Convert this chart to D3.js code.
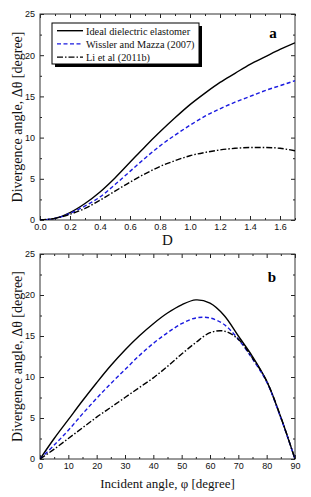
<!DOCTYPE html>
<html><head><meta charset="utf-8">
<script src="https://cdn.jsdelivr.net/npm/d3@7"></script>
<style>
html,body{margin:0;padding:0;background:#fff;}
svg{display:block;}
.tick text{font-family:"Liberation Sans",Arial,sans-serif;font-size:9px;fill:#111;}
</style></head><body>
<svg id="c" width="311" height="497"></svg>
<script>
// ---- Panel a data ----
const dValues = [0,0.1,0.2,0.3,0.4,0.5,0.6,0.7,0.8,0.9,1.0,1.1,1.2,1.3,1.4,1.5,1.6,1.7];
const idealA   = [0,0.2,0.9,2.0,3.4,5.1,7.0,8.9,10.7,12.4,14.0,15.4,16.7,17.8,18.9,19.8,20.7,21.5];
const wisslerA = [0,0.2,0.8,1.7,2.8,4.3,5.9,7.5,9.0,10.3,11.5,12.6,13.5,14.3,15.0,15.7,16.3,16.9];
const liA      = [0,0.2,0.7,1.4,2.4,3.5,4.6,5.6,6.5,7.2,7.8,8.2,8.5,8.7,8.8,8.8,8.7,8.4];
const xTicksA = [0,0.2,0.4,0.6,0.8,1.0,1.2,1.4,1.6];
const xMinorA = [0.1,0.3,0.5,0.7,0.9,1.1,1.3,1.5,1.7];
// ---- Panel b data ----
const phiValues = [0,5,10,15,20,25,30,35,40,45,50,55,60,65,70,75,80,85,90];
const idealB   = [0,2.5,4.8,7.1,9.3,11.4,13.3,15.0,16.5,17.8,18.8,19.4,19.0,17.5,15.0,12.5,9.5,5.1,0];
const wisslerB = [0,1.7,3.5,5.5,7.4,9.2,10.9,12.6,14.1,15.4,16.5,17.2,17.2,16.4,14.6,12.2,9.4,5.0,0];
const liB      = [0,1.2,2.5,3.8,5.1,6.3,7.5,8.7,9.9,11.3,12.8,14.2,15.4,15.6,14.6,12.3,9.5,5.1,0];
const xTicksB = [0,10,20,30,40,50,60,70,80,90];
const xMinorB = [5,15,25,35,45,55,65,75,85];
const yTicks = [0,5,10,15,20,25];
const yMinor = [2.5,7.5,12.5,17.5,22.5];
const seriesNames = ["Ideal dielectric elastomer","Wissler and Mazza (2007)","Li et al (2011b)"];
const seriesColors = ["#000","#1a1ae0","#000"];
const seriesDash = [null,"4,2.5","6,2,1.5,2"];

const svg = d3.select("#c");
const serif = '"Liberation Serif","Times New Roman",serif';

function panel(cfg){
  const g = svg.append("g");
  const x = d3.scaleLinear().domain(cfg.xDomain).range([40,295]);
  const y = d3.scaleLinear().domain([0,25]).range([cfg.bottom,cfg.top]);
  const fmt = cfg.fmt;
  const ax = (axisFn, scale, ticks, size, labels, tr) => {
    const a = axisFn(scale).tickValues(ticks).tickSizeInner(size).tickSizeOuter(0);
    if(!labels) a.tickFormat(""); else a.tickFormat(labels);
    const gg = g.append("g").attr("transform",tr).call(a);
    gg.select(".domain").remove();
    gg.selectAll(".tick line").attr("stroke","#222").attr("stroke-width",1);
    return gg;
  };
  ax(d3.axisBottom,x,cfg.xTicks,-4,fmt,`translate(0,${cfg.bottom})`).call(s=>s.selectAll("text").attr("y",4));
  ax(d3.axisBottom,x,cfg.xMinor,-2,null,`translate(0,${cfg.bottom})`);
  ax(d3.axisTop,x,cfg.xTicks,-4,null,`translate(0,${cfg.top})`);
  ax(d3.axisTop,x,cfg.xMinor,-2,null,`translate(0,${cfg.top})`);
  ax(d3.axisLeft,y,yTicks,-4,d3.format("d"),`translate(40,0)`).call(s=>s.selectAll("text").attr("x",-5));
  ax(d3.axisLeft,y,yMinor,-2,null,`translate(40,0)`);
  ax(d3.axisRight,y,yTicks,-4,null,`translate(295,0)`);
  ax(d3.axisRight,y,yMinor,-2,null,`translate(295,0)`);
  g.append("rect").attr("x",40).attr("y",cfg.top).attr("width",255).attr("height",cfg.bottom-cfg.top)
    .attr("fill","none").attr("stroke","#333").attr("stroke-width",1);
  const clipId = "clip"+cfg.id;
  g.append("clipPath").attr("id",clipId).append("rect").attr("x",40).attr("y",cfg.top).attr("width",255).attr("height",cfg.bottom-cfg.top);
  const line = d3.line().x(d=>x(d[0])).y(d=>y(d[1])).curve(cfg.curve);
  cfg.series.forEach((s,i)=>{
    g.append("path").datum(cfg.xs.map((v,j)=>[v,s[j]]))
      .attr("d",line).attr("fill","none").attr("stroke",seriesColors[i])
      .attr("stroke-width",1.4).attr("stroke-dasharray",seriesDash[i]).attr("clip-path",`url(#${clipId})`);
  });
  g.append("text").attr("x",cfg.letterX).attr("y",cfg.letterY).attr("text-anchor","middle")
    .attr("font-family",serif).attr("font-weight","bold").attr("font-size",15).text(cfg.letter);
  g.append("text").attr("transform",`translate(22,${(cfg.top+cfg.bottom)/2}) rotate(-90)`)
    .attr("text-anchor","middle").attr("font-family",serif).attr("font-size",14).attr("fill","#111")
    .text("Divergence angle, Δθ [degree]");
  g.append("text").attr("x",167.5).attr("y",cfg.xLabelY).attr("text-anchor","middle")
    .attr("font-family",serif).attr("font-size",cfg.xLabelSize).attr("fill","#111").text(cfg.xLabel);
  return {g,x,y};
}

const pa = panel({id:"a",xDomain:[0,1.7],top:14,bottom:220,xTicks:xTicksA,xMinor:xMinorA,fmt:d3.format(".1f"),
  xs:dValues,series:[idealA,wisslerA,liA],letter:"a",letterX:273,letterY:38,xLabel:"D",xLabelY:245,xLabelSize:15,
  curve:d3.curveMonotoneX});
panel({id:"b",xDomain:[0,90],top:254,bottom:459,xTicks:xTicksB,xMinor:xMinorB,fmt:d3.format("d"),
  xs:phiValues,series:[idealB,wisslerB,liB],letter:"b",letterX:272,letterY:282,xLabel:"Incident angle, φ [degree]",xLabelY:488,xLabelSize:13,
  curve:d3.curveCatmullRom.alpha(0.5)});

const lg = pa.g.append("g");
lg.append("rect").attr("x",55).attr("y",26).attr("width",147).attr("height",41).attr("fill","#000");
lg.append("rect").attr("x",52).attr("y",23).attr("width",147).attr("height",41).attr("fill","#fff").attr("stroke","#000").attr("stroke-width",1);
seriesNames.forEach((n,i)=>{
  const yy = 30.7 + i*13.2;
  lg.append("line").attr("x1",57).attr("x2",83).attr("y1",yy).attr("y2",yy)
    .attr("stroke",seriesColors[i]).attr("stroke-width",1.4).attr("stroke-dasharray",seriesDash[i]);
  lg.append("text").attr("x",86).attr("y",yy+3.8).attr("font-family",serif).attr("font-size",10.3).attr("fill","#111").text(n);
});
</script>
</body></html>
